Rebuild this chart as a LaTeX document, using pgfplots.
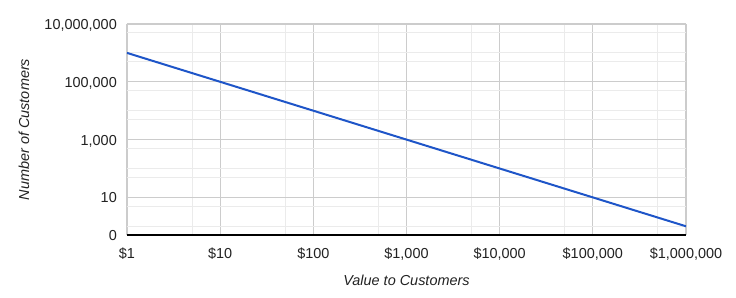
\documentclass[border=0pt]{standalone}
\usepackage{fontspec}
\setmainfont{Liberation Sans}
\usepackage{pgfplots}
\pgfplotsset{compat=1.18}
\definecolor{gridmaj}{HTML}{CCCCCC}
\definecolor{gridmin}{HTML}{EBEBEB}
\definecolor{txt}{HTML}{222222}
\definecolor{serie}{HTML}{1E55C8}
\definecolor{baseline}{HTML}{333333}
\begin{document}
\begin{tikzpicture}[x=1bp,y=1bp]
\path (-127,-62) rectangle (609,235);
\begin{axis}[
 at={(0,0)}, anchor=south west,
 scale only axis, width=559bp, height=211bp,
 xmode=log, ymode=log,
 xmin=1, xmax=1000000, ymin=0.5, ymax=10000000,
 xtick={1,10,100,1000,10000,100000,1000000},
 xticklabels={\$1,\$10,\$100,{\$1,000},{\$10,000},{\$100,000},{\$1,000,000}},
 minor xtick={5,50,500,5000,50000,500000},
 ytick={0.5,10,1000,100000,10000000},
 yticklabels={0,10,{1,000},{100,000},{10,000,000}},
 minor ytick={1,5,50,100,500,5000,10000,50000,500000,1000000,5000000},
 grid=both,
 major grid style={gridmaj, line width=1.2bp},
 minor grid style={gridmin, line width=1bp},
 axis line style={draw=none},
 major tick length=0pt, minor tick length=0pt,
 tick label style={font=\fontsize{14.5}{17}\selectfont, text=txt, inner sep=0pt},
 xticklabel style={anchor=base, yshift=-23bp},
 yticklabel style={anchor=base east, xshift=-10bp, yshift=-5.5bp},
 xlabel={Value to Customers},
 ylabel={Number of Customers},
 every axis x label/.style={at={(axis description cs:0.5,-0.2133)}, anchor=center, font=\fontsize{14.5}{17}\selectfont\itshape, text=txt},
 every axis y label/.style={at={(axis description cs:-0.1843,0.5)}, anchor=center, rotate=90, font=\fontsize{14.5}{17}\selectfont\itshape, text=txt},
]
\addplot[serie, line width=2bp, mark=none] coordinates {(1,1000000) (10,100000) (100,10000) (1000,1000) (10000,100) (100000,10) (1000000,1)};
\draw[baseline, line width=1.2bp] (rel axis cs:0,0) -- (rel axis cs:1,0);
\end{axis}
\end{tikzpicture}
\end{document}
